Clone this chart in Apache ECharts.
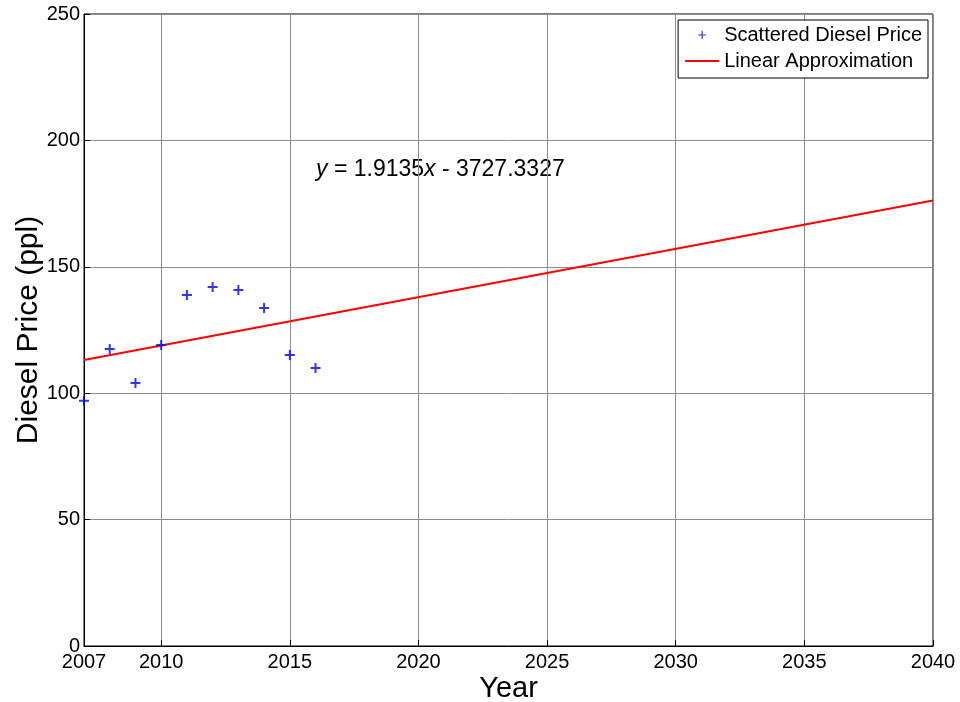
<!DOCTYPE html>
<html><head><meta charset="utf-8">
<script src="https://cdn.jsdelivr.net/npm/echarts@6/dist/echarts.min.js"></script>
<style>html,body{margin:0;padding:0;background:#fff}#c{width:960px;height:702px}</style>
</head><body><div id="c"></div>
<script>
const years = [2007, 2008, 2009, 2010, 2011, 2012, 2013, 2014, 2015, 2016];
const prices = [97.0, 117.5, 104.0, 119.1, 138.8, 142.0, 140.8, 133.7, 115.1, 110.0];
const fitYears = [2007, 2040];
const fitValues = [113.1, 176.2];
const xTicks = [2007, 2010, 2015, 2020, 2025, 2030, 2035, 2040];
const yTicks = [0, 50, 100, 150, 200, 250];
const FONT = '"Liberation Sans", Arial, sans-serif';
const plusPath = 'path://M-1,-5H1V5H-1Z M-5,-1H5V1H-5Z';
const legendPlus = 'path://M-0.6,-4H0.6V4H-0.6Z M-4,-0.6H4V0.6H-4Z M-17,-10h0.01v0.01h-0.01Z M17,10h-0.01v-0.01h0.01Z';

const chart = echarts.init(document.getElementById('c'), null, {renderer: 'canvas'});
chart.setOption({
  backgroundColor: '#fff',
  animation: false,
  grid: {left: 84, right: 27, top: 14, bottom: 56, show: true, borderColor: '#000', borderWidth: 1, containLabel: false, outerBoundsMode: 'none'},
  legend: {
    right: 32, top: 20, orient: 'vertical',
    backgroundColor: '#fff', borderColor: '#000', borderWidth: 1, borderRadius: 0,
    padding: [5, 6, 7, 7], itemGap: 6, itemWidth: 34, itemHeight: 20,
    textStyle: {fontFamily: FONT, fontSize: 20, color: '#000', padding: [0,0,0,0]},
    data: [
      {name: 'Scattered Diesel Price', icon: legendPlus, itemStyle: {color: '#0000ff'}},
      {name: 'Linear Approximation', icon: 'path://M0,9H34V11H0Z M0,0H0.01V20H0Z', itemStyle: {color: '#ff0000'}}
    ]
  },
  xAxis: {
    type: 'value', min: 2007, max: 2040,
    name: 'Year', nameLocation: 'middle', nameGap: 28, nameMoveOverlap: false,
    nameTextStyle: {fontFamily: FONT, fontSize: 29, color: '#000'},
    axisLine: {show: true, lineStyle: {color: '#000'}},
    axisTick: {show: true, inside: true, length: 6, lineStyle: {color: '#000'}, customValues: xTicks},
    axisLabel: {fontFamily: FONT, fontSize: 20, color: '#000', margin: 6, customValues: xTicks, formatter: v => String(v)},
    splitLine: {show: true, lineStyle: {color: '#8c8c8c', width: 1}}
  },
  yAxis: {
    type: 'value', min: 0, max: 250, interval: 50,
    name: 'Diesel Price (ppl)', nameLocation: 'middle', nameGap: 40, nameMoveOverlap: false,
    nameTextStyle: {fontFamily: FONT, fontSize: 30, color: '#000'},
    axisLine: {show: true, lineStyle: {color: '#000'}},
    axisTick: {show: true, inside: true, length: 6, lineStyle: {color: '#000'}},
    axisLabel: {fontFamily: FONT, fontSize: 20, color: '#000', margin: 4},
    splitLine: {show: true, lineStyle: {color: '#8c8c8c', width: 1}}
  },
  series: [
    {
      name: 'Scattered Diesel Price', type: 'scatter',
      symbol: plusPath, symbolSize: 10,
      itemStyle: {color: '#0000ff'},
      data: years.map((y, i) => [y, prices[i]]), z: 5
    },
    {
      name: 'Linear Approximation', type: 'line',
      symbol: 'none', showSymbol: false,
      lineStyle: {color: '#ff0000', width: 2},
      itemStyle: {color: '#ff0000'},
      data: fitYears.map((y, i) => [y, fitValues[i]]), z: 4
    }
  ],
  graphic: [{
    type: 'text', left: 316, top: 158,
    style: {
      text: '{i|y} = 1.9135{i|x} - 3727.3327',
      font: '23px ' + FONT, fill: '#000',
      rich: {i: {fontStyle: 'italic', fontFamily: FONT, fontSize: 23, fill: '#000'}}
    }
  }]
});
</script></body></html>
